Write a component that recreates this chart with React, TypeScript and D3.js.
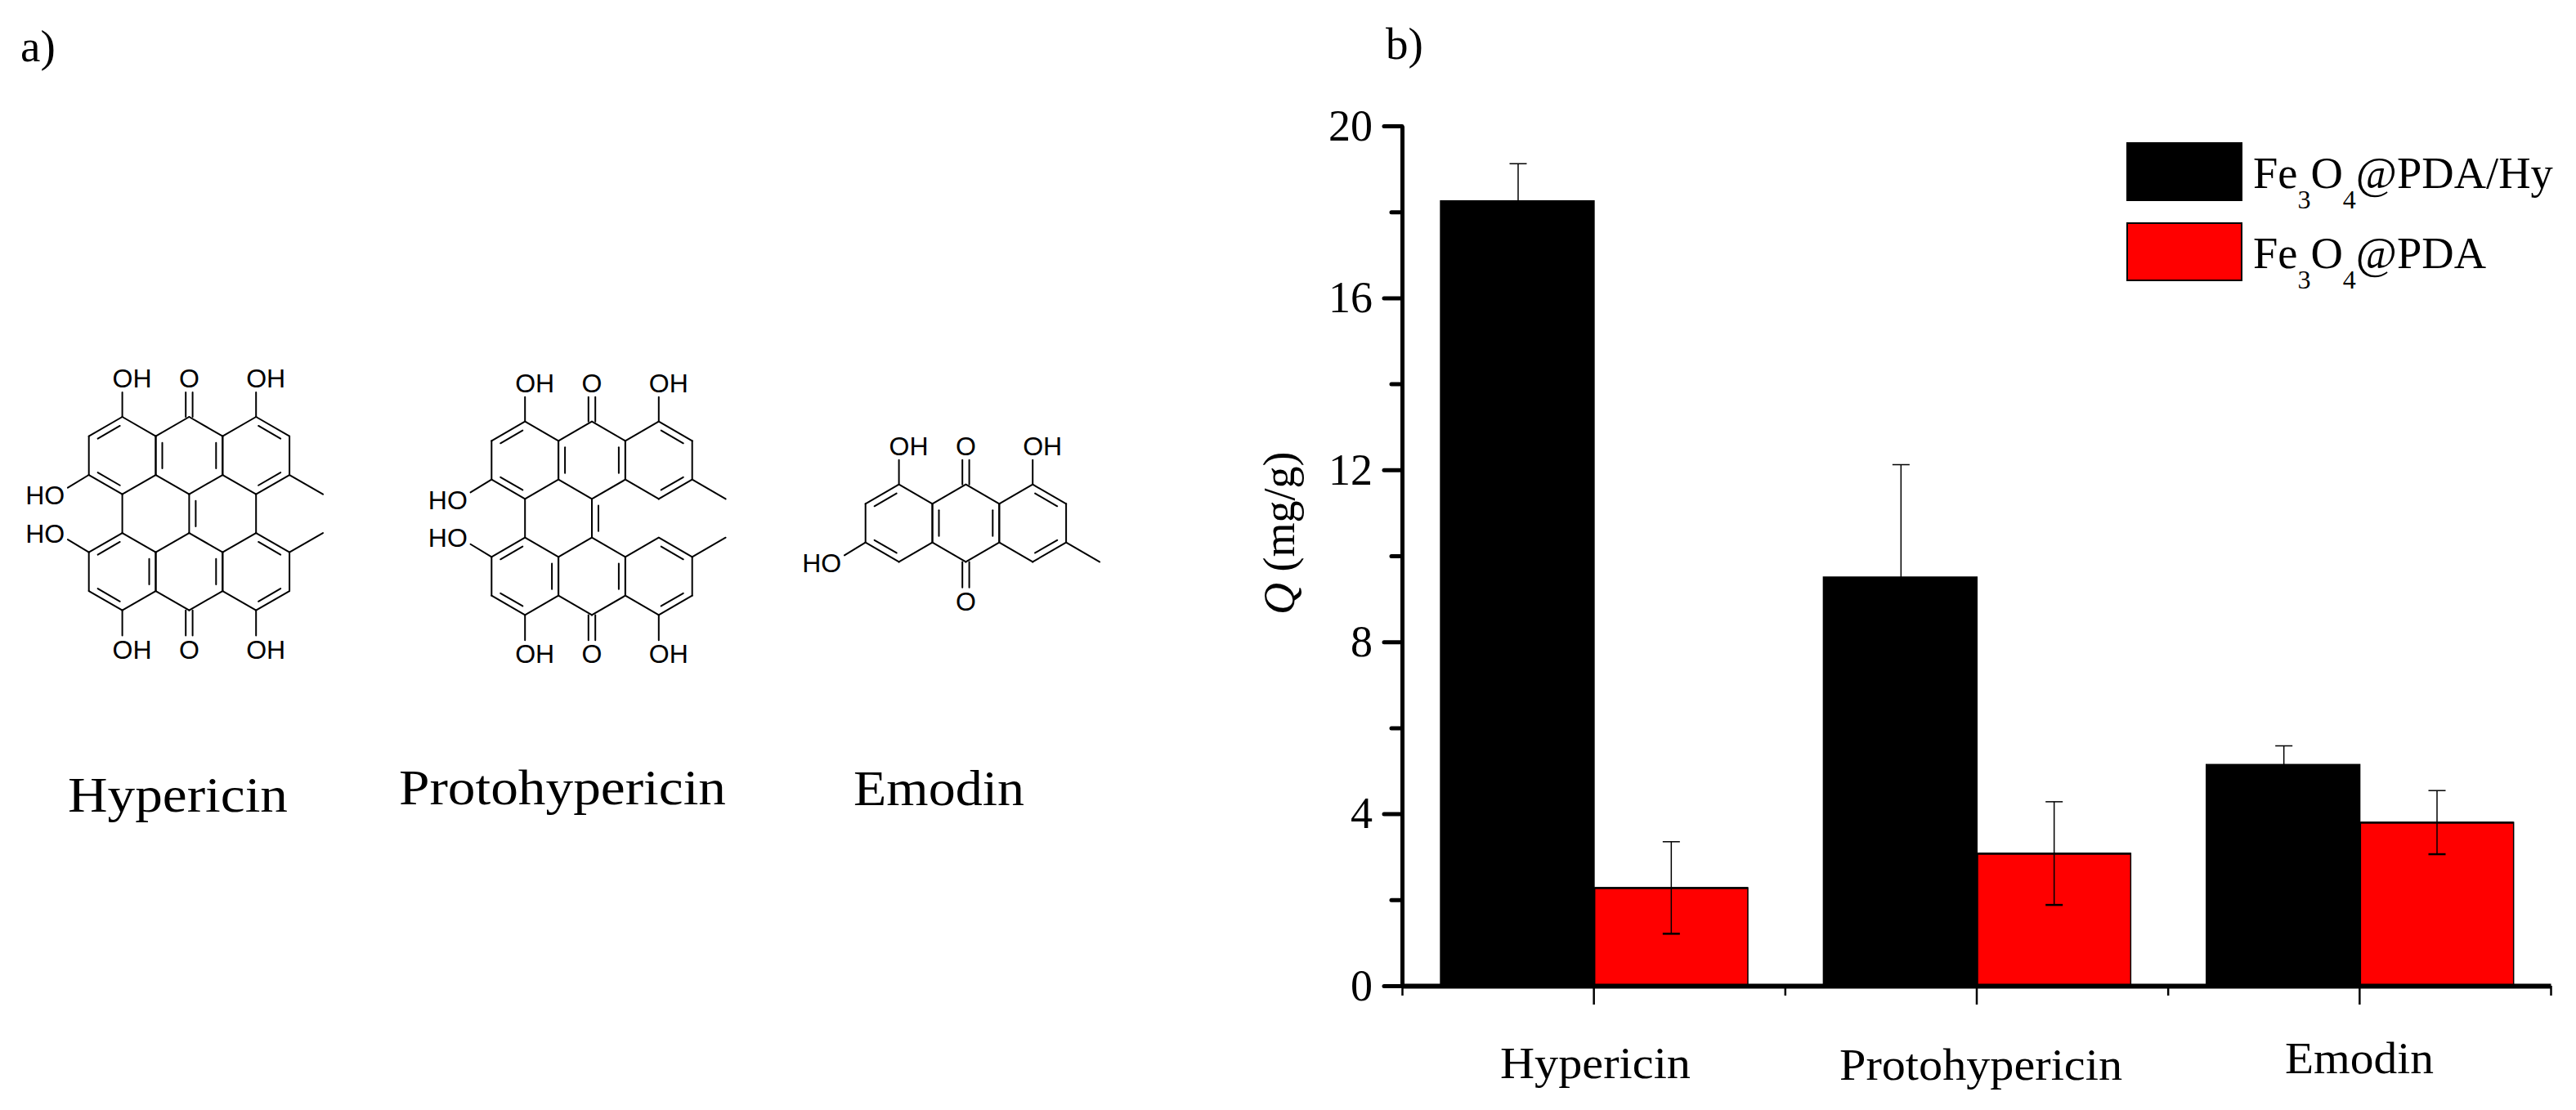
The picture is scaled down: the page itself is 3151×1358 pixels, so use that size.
import React, { useEffect, useRef } from "react";
import * as d3 from "d3";

const categories = ["Hypericin", "Protohypericin", "Emodin"];
const hyValues = [18.27, 9.52, 5.16];
const hyErrors = [0.85, 2.6, 0.42];
const pdaValues = [2.28, 3.08, 3.8];
const pdaErrors = [1.07, 1.2, 0.74];
const majorTicks = [0, 4, 8, 12, 16, 20];
const minorTicks = [2, 6, 10, 14, 18];
const xMajor = [1, 2, 3];
const xMinor = [0.5, 1.5, 2.5, 3.5];
const legendNames = ["@PDA/Hy", "@PDA"];
const SERIF = "'Liberation Serif', 'Times New Roman', serif";
const SANS = "'Liberation Sans', Arial, sans-serif";

// molecules are on a hexagon lattice: [col, row, col, row]
type Bond = number[];
const leftRing: Bond[] = [[0, 1, 0, 3], [1, 4, 2, 3], [2, 3, 2, 1], [2, 1, 1, 0]];
const midRing: Bond[] = [[2, 1, 3, 0], [3, 0, 4, 1], [4, 1, 4, 3], [4, 3, 3, 4], [3, 4, 2, 3]];
const rightRing: Bond[] = [[4, 1, 5, 0], [6, 1, 6, 3], [5, 4, 4, 3], [6, 3, 7, 4]];
const mirror = (b: Bond[]) => b.map(([a, c, d, e]) => [a, 10 - c, d, 10 - e]);
const halfDoubles: Bond[] = [
  [1, 0, 0, 1, 1, 2],
  [0, 3, 1, 4, 1, 2],
  [2, 1, 2, 3, 3, 2],
  [4, 1, 4, 3, 3, 2],
  [5, 0, 6, 1, 5, 2],
  [6, 3, 5, 4, 5, 2],
];
// the lower half has its left double bond in the outer ring
const lowerDoubles: Bond[] = [
  [1, 10, 0, 9, 1, 8],
  [0, 7, 1, 6, 1, 8],
  [2, 9, 2, 7, 1, 8],
  [4, 9, 4, 7, 3, 8],
  [5, 10, 6, 9, 5, 8],
  [6, 7, 5, 6, 5, 8],
];
const halfBonds = [...leftRing, ...midRing, ...rightRing];
const dimerBonds = [...halfBonds, ...mirror(halfBonds), [1, 4, 1, 6]];
const dimerDoubles = [...halfDoubles, ...lowerDoubles, [3, 4, 3, 6, 4, 5]];
const dimerSubs: Bond[] = [
  [1, 0, 1, -1.27], [5, 0, 5, -1.27], [1, 10, 1, 11.3], [5, 10, 5, 11.3],
  [0, 3, -0.63, 3.66], [0, 7, -0.63, 6.34],
];
const dimerLabels = [
  { t: "OH", c: 1, r: -2, a: "o" }, { t: "OH", c: 5, r: -2, a: "o" },
  { t: "O", c: 3, r: -2, a: "m" }, { t: "O", c: 3, r: 12, a: "m" },
  { t: "OH", c: 1, r: 12, a: "o" }, { t: "OH", c: 5, r: 12, a: "o" },
  { t: "HO", c: -0.72, r: 4.05, a: "e" }, { t: "HO", c: -0.72, r: 6, a: "e" },
];

const molecules = [
  {
    x0: 108.7, y0: 510,
    bonds: [...dimerBonds, ...dimerSubs, [5, 4, 5, 6]],
    doubles: dimerDoubles,
    carbonyls: [[3, 0, -1.27], [3, 10, 11.3]],
    labels: dimerLabels,
  },
  {
    x0: 601.3, y0: 515.7,
    bonds: [...dimerBonds, ...dimerSubs],
    doubles: dimerDoubles,
    carbonyls: [[3, 0, -1.27], [3, 10, 11.3]],
    labels: dimerLabels,
  },
  {
    x0: 1058.7, y0: 592.7,
    bonds: [...halfBonds, [1, 0, 1, -1.27], [5, 0, 5, -1.27], [0, 3, -0.63, 3.66]],
    doubles: halfDoubles,
    carbonyls: [[3, 0, -1.27], [3, 4, 5.33]],
    labels: [
      { t: "OH", c: 1, r: -2, a: "o" }, { t: "OH", c: 5, r: -2, a: "o" },
      { t: "O", c: 3, r: -2, a: "m" }, { t: "O", c: 3, r: 6.03, a: "m" },
      { t: "HO", c: -0.72, r: 4.05, a: "e" },
    ],
  },
];

const moleculeNames = [
  { x: 83, y: 993, w: 269, size: 62 },
  { x: 488, y: 984, w: 400, size: 62 },
  { x: 1044, y: 985, w: 209, size: 62 },
];
const axisNames = [
  { x: 1835, y: 1319, w: 233 },
  { x: 2250, y: 1321, w: 346 },
  { x: 2795, y: 1313, w: 182 },
];

const App = () => {
  const ref = useRef<SVGSVGElement>(null);

  useEffect(() => {
    const svg = d3.select(ref.current);
    svg.selectAll("*").remove();

    const stepX = 40.9;
    const stepY = 23.67;

    // panel a, the three structures
    molecules.forEach((m, k) => {
      const g = svg.append("g").attr("stroke", "#000").attr("fill", "none").attr("stroke-width", 2);
      const px = d3.scaleLinear().domain([0, 1]).range([m.x0, m.x0 + stepX]);
      const py = d3.scaleLinear().domain([0, 1]).range([m.y0, m.y0 + stepY]);
      const line = (x1: number, y1: number, x2: number, y2: number) =>
        g.append("line").attr("x1", x1).attr("y1", y1).attr("x2", x2).attr("y2", y2).attr("stroke-linecap", "round");

      m.bonds.forEach(([a, b, c, d]) => line(px(a), py(b), px(c), py(d)));

      m.doubles.forEach(([a, b, c, d, ci, cj]) => {
        const x1 = px(a), y1 = py(b), x2 = px(c), y2 = py(d);
        line(x1, y1, x2, y2);
        const len = Math.hypot(x2 - x1, y2 - y1);
        let nx = -(y2 - y1) / len;
        let ny = (x2 - x1) / len;
        const toCx = px(ci) - (x1 + x2) / 2;
        const toCy = py(cj) - (y1 + y2) / 2;
        if (nx * toCx + ny * toCy < 0) {
          nx = -nx;
          ny = -ny;
        }
        const ux = (x2 - x1) / len;
        const uy = (y2 - y1) / len;
        const off = 8;
        const trim = 8;
        line(x1 + nx * off + ux * trim, y1 + ny * off + uy * trim, x2 + nx * off - ux * trim, y2 + ny * off - uy * trim);
      });

      m.carbonyls.forEach(([c, r0, r1]) => {
        line(px(c) - 4.2, py(r0), px(c) - 4.2, py(r1));
        line(px(c) + 4.2, py(r0), px(c) + 4.2, py(r1));
      });

      m.labels.forEach((l) => {
        svg.append("text")
          .attr("x", l.a === "o" ? px(l.c) - 12 : px(l.c))
          .attr("y", py(l.r))
          .attr("dy", "0.36em")
          .attr("text-anchor", l.a === "m" ? "middle" : l.a === "e" ? "end" : "start")
          .attr("font-family", SANS)
          .attr("font-size", 32)
          .attr("fill", "#000")
          .text(l.t);
      });

      const n = moleculeNames[k];
      svg.append("text")
        .attr("x", n.x).attr("y", n.y)
        .attr("font-family", SERIF).attr("font-size", n.size)
        .attr("textLength", n.w).attr("lengthAdjust", "spacingAndGlyphs")
        .text(categories[k]);
    });

    svg.append("text").attr("x", 25).attr("y", 75).attr("font-family", SERIF).attr("font-size", 55).text("a)");
    svg.append("text").attr("x", 1695).attr("y", 72).attr("font-family", SERIF).attr("font-size", 55).text("b)");

    // panel b, bars
    const x = d3.scaleLinear().domain([0.5, 3.5]).range([1715, 3120]);
    const y = d3.scaleLinear().domain([0, 20]).range([1206, 154]);
    const barW = x(1.4) - x(1);

    const bars = svg.append("g");
    categories.forEach((_, i) => {
      const c = x(i + 1) + 1.5;
      bars.append("rect")
        .attr("x", c - barW - 2).attr("y", y(hyValues[i]))
        .attr("width", barW + 2).attr("height", y(0) - y(hyValues[i]))
        .attr("fill", "#000");
      bars.append("rect")
        .attr("x", c).attr("y", y(pdaValues[i]))
        .attr("width", barW).attr("height", y(0) - y(pdaValues[i]))
        .attr("fill", "#ff0000").attr("stroke", "#000").attr("stroke-width", 1.5);
      bars.append("line")
        .attr("x1", c).attr("x2", c + barW)
        .attr("y1", y(pdaValues[i]) + 0.5).attr("y2", y(pdaValues[i]) + 0.5)
        .attr("stroke", "#000").attr("stroke-width", 2.5);

      const err = (cx: number, v: number, e: number) => {
        bars.append("line").attr("x1", cx).attr("x2", cx)
          .attr("y1", y(v + e)).attr("y2", y(v - e))
          .attr("stroke", "#000").attr("stroke-width", 1.5);
        bars.append("line").attr("x1", cx - 10.5).attr("x2", cx + 10.5)
          .attr("y1", y(v + e)).attr("y2", y(v + e))
          .attr("stroke", "#000").attr("stroke-width", 1.5);
        bars.append("line").attr("x1", cx - 10.5).attr("x2", cx + 10.5)
          .attr("y1", y(v - e)).attr("y2", y(v - e))
          .attr("stroke", "#000").attr("stroke-width", 2.5);
      };
      err(c - barW / 2, hyValues[i], hyErrors[i]);
      err(c + barW / 2, pdaValues[i], pdaErrors[i]);
    });

    // axes
    const yAxis = svg.append("g").attr("transform", "translate(1715,0)").call(
      d3.axisLeft(y).tickValues(majorTicks).tickSize(22).tickSizeOuter(0).tickPadding(14).tickFormat(d3.format("d") as any)
    );
    yAxis.selectAll("line").attr("stroke-width", 5).attr("stroke", "#000").attr("stroke-linecap", "round");
    yAxis.select(".domain").attr("stroke-width", 5).attr("stroke", "#000");
    yAxis.selectAll("text")
      .attr("font-family", SERIF).attr("font-size", 54).attr("fill", "#000").attr("dy", "0.32em");

    const yMinor = svg.append("g").attr("transform", "translate(1715,0)").call(
      d3.axisLeft(y).tickValues(minorTicks).tickSize(13).tickSizeOuter(0).tickFormat(() => "")
    );
    yMinor.selectAll("line").attr("stroke-width", 5).attr("stroke", "#000").attr("stroke-linecap", "round");
    yMinor.select(".domain").remove();

    const xAxis = svg.append("g").attr("transform", "translate(0,1206)").call(
      d3.axisBottom(x).tickValues(xMajor).tickSize(23).tickSizeOuter(0).tickFormat(() => "")
    );
    xAxis.selectAll("line").attr("stroke-width", 2.5).attr("stroke", "#000");
    xAxis.select(".domain").attr("stroke-width", 6).attr("stroke", "#000");

    const xMinorAxis = svg.append("g").attr("transform", "translate(0,1206)").call(
      d3.axisBottom(x).tickValues(xMinor).tickSize(12).tickSizeOuter(0).tickFormat(() => "")
    );
    xMinorAxis.selectAll("line").attr("stroke-width", 2.5).attr("stroke", "#000");
    xMinorAxis.select(".domain").remove();

    categories.forEach((name, i) => {
      const a = axisNames[i];
      svg.append("text")
        .attr("x", a.x).attr("y", a.y)
        .attr("font-family", SERIF).attr("font-size", 54)
        .attr("textLength", a.w).attr("lengthAdjust", "spacingAndGlyphs")
        .text(name);
    });

    // y title, Q is italic
    const title = svg.append("text")
      .attr("transform", "translate(1583,752) rotate(-90)")
      .attr("font-family", SERIF).attr("font-size", 54);
    title.append("tspan").attr("font-style", "italic").text("Q");
    title.append("tspan").text(" (mg/g)");

    // legend
    const legendY = [175, 273];
    const legendFill = ["#000", "#ff0000"];
    legendNames.forEach((name, i) => {
      svg.append("rect")
        .attr("x", 2602).attr("y", legendY[i])
        .attr("width", 140).attr("height", 70)
        .attr("fill", legendFill[i]).attr("stroke", "#000").attr("stroke-width", 2);
      const t = svg.append("text")
        .attr("x", 2756).attr("y", legendY[i] + 55)
        .attr("font-family", SERIF).attr("font-size", 54.5);
      t.append("tspan").text("Fe");
      t.append("tspan").attr("font-size", 32).attr("dy", 25).text("3");
      t.append("tspan").attr("dy", -25).text("O");
      t.append("tspan").attr("font-size", 32).attr("dy", 25).text("4");
      t.append("tspan").attr("dy", -25).text(name);
    });
  }, []);

  return (
    <svg
      ref={ref}
      width={3151}
      height={1358}
      style={{ position: "absolute", left: 0, top: 0, background: "#fff" }}
    />
  );
};

export default App;
